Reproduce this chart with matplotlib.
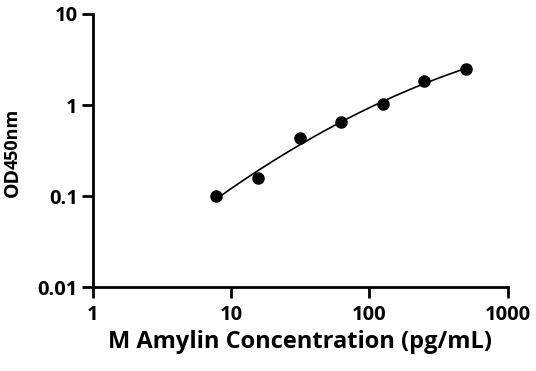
import numpy as np
import matplotlib.pyplot as plt

# standard curve data
conc = [7.8, 15.6, 31.25, 62.5, 125, 250, 500]
od = [0.10, 0.157, 0.43, 0.65, 1.02, 1.83, 2.48]

x_ticks = [1, 10, 100, 1000]
x_tick_labels = ["1", "10", "100", "1000"]
y_ticks = [0.01, 0.1, 1, 10]
y_tick_labels = ["0.01", "0.1", "1", "10"]

FONT = "Open Sans"


def main():
    plt.rcParams['font.family'] = [FONT, 'DejaVu Sans']
    plt.rcParams['font.weight'] = 'bold'

    fig = plt.figure(figsize=(5.36, 3.71), dpi=100)
    ax = fig.add_axes([0.1735, 0.2256, 0.7735, 0.7367])

    # smooth fit curve in log-log space
    lx = np.log10(conc)
    ly = np.log10(od)
    coef = np.polyfit(lx, ly, 2)
    xs = np.linspace(lx[0], lx[-1], 200)
    ax.plot(10 ** xs, 10 ** np.polyval(coef, xs), color='black', lw=1.2, zorder=2)

    ax.plot(conc, od, 'o', color='black', markersize=8, zorder=3)

    ax.set_xscale('log')
    ax.set_yscale('log')
    ax.set_xlim(1, 1000)
    ax.set_ylim(0.01, 10)
    ax.set_xticks(x_ticks)
    ax.set_xticklabels(x_tick_labels)
    ax.set_yticks(y_ticks)
    ax.set_yticklabels(y_tick_labels)
    ax.minorticks_off()
    ax.tick_params(width=2, length=8, labelsize=14.5, pad=3)
    ax.tick_params(axis='x', pad=5)

    for side in ['top', 'right']:
        ax.spines[side].set_visible(False)
    for side in ['left', 'bottom']:
        ax.spines[side].set_linewidth(2)

    ax.set_xlabel("M Amylin Concentration (pg/mL)", fontsize=17,
                  fontweight='bold', labelpad=3)

    # y label: "OD" with smaller "450nm"
    t1 = fig.text(0.034, 0.469, "OD", rotation=90, rotation_mode='anchor',
                  ha='left', va='baseline', fontsize=14, fontweight='bold')
    fig.canvas.draw()
    bb = t1.get_window_extent()
    t2_y = (bb.y1 - 2) / fig.bbox.height
    fig.text(0.034, t2_y, "450nm", rotation=90, rotation_mode='anchor',
             ha='left', va='baseline', fontsize=13, fontweight='bold')

    fig.savefig("out.png", dpi=100)


if __name__ == "__main__":
    main()
